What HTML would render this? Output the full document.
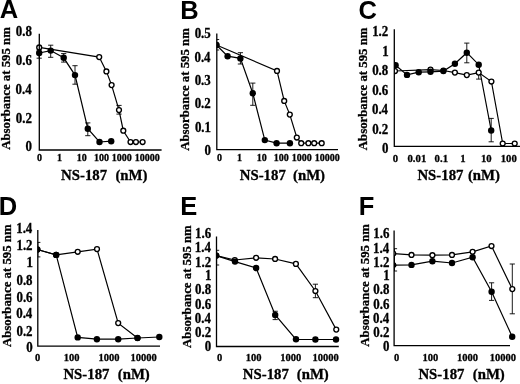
<!DOCTYPE html>
<html><head><meta charset="utf-8"><style>
html,body{margin:0;padding:0;background:#fff;}
svg{display:block;will-change:transform;}
</style></head><body>
<svg width="520" height="384" viewBox="0 0 520 384">
<rect width="520" height="384" fill="#fff"/>
<text x="-0.15" y="18.1" font-family="'Liberation Sans', sans-serif" font-weight="bold" font-size="25.5">A</text>
<text transform="translate(10.2,149.78) rotate(-90)" font-family="'Liberation Serif', serif" font-weight="bold" font-size="12.8" stroke="#000" stroke-width="0.3">Absorbance at 595 nm</text>
<text transform="translate(15.73,36.44) scale(0.95,1)" font-family="'Liberation Serif', serif" font-weight="bold" font-size="13.6" stroke="#000" stroke-width="0.3">0.8</text>
<text transform="translate(15.73,65.39) scale(0.95,1)" font-family="'Liberation Serif', serif" font-weight="bold" font-size="13.6" stroke="#000" stroke-width="0.3">0.6</text>
<text transform="translate(15.49,94.14) scale(0.95,1)" font-family="'Liberation Serif', serif" font-weight="bold" font-size="13.6" stroke="#000" stroke-width="0.3">0.4</text>
<text transform="translate(15.73,123.08) scale(0.95,1)" font-family="'Liberation Serif', serif" font-weight="bold" font-size="13.6" stroke="#000" stroke-width="0.3">0.2</text>
<text transform="translate(25.46,151.44) scale(0.95,1)" font-family="'Liberation Serif', serif" font-weight="bold" font-size="13.6" stroke="#000" stroke-width="0.3">0</text>
<text x="36.98" y="161.25" font-family="'Liberation Serif', serif" font-weight="bold" font-size="10.0" stroke="#000" stroke-width="0.3">0</text>
<text x="56.98" y="161.38" font-family="'Liberation Serif', serif" font-weight="bold" font-size="10.0" stroke="#000" stroke-width="0.3">1</text>
<text x="76.65" y="161.38" font-family="'Liberation Serif', serif" font-weight="bold" font-size="10.0" stroke="#000" stroke-width="0.3">10</text>
<text x="94.05" y="161.38" font-family="'Liberation Serif', serif" font-weight="bold" font-size="10.0" stroke="#000" stroke-width="0.3">100</text>
<text x="111.65" y="161.38" font-family="'Liberation Serif', serif" font-weight="bold" font-size="10.0" stroke="#000" stroke-width="0.3">1000</text>
<text x="134.65" y="161.38" font-family="'Liberation Serif', serif" font-weight="bold" font-size="10.0" stroke="#000" stroke-width="0.3">10000</text>
<text x="61.05" y="179.8" font-family="'Liberation Serif', serif" font-weight="bold" font-size="14.8" stroke="#000" stroke-width="0.3">NS-187</text>
<text x="115.45" y="179.8" font-family="'Liberation Serif', serif" font-weight="bold" font-size="14.8" stroke="#000" stroke-width="0.3">(nM)</text>
<g>
<path d="M39.2 50V58.2M36.6 50H41.8M36.6 58.2H41.8" fill="none" stroke="#000" stroke-width="0.9"/>
<path d="M50.7 45.2V57.3M48.1 45.2H53.3M48.1 57.3H53.3" fill="none" stroke="#000" stroke-width="0.9"/>
<path d="M63.7 53.6V62.1M61.1 53.6H66.3M61.1 62.1H66.3" fill="none" stroke="#000" stroke-width="0.9"/>
<path d="M75 65.7V84.2M72.4 65.7H77.6M72.4 84.2H77.6" fill="none" stroke="#000" stroke-width="0.9"/>
<path d="M87.8 122.9V135.7M85.2 122.9H90.4M85.2 135.7H90.4" fill="none" stroke="#000" stroke-width="0.9"/>
<path d="M119 105.4V114.1M116.4 105.4H121.6M116.4 114.1H121.6" fill="none" stroke="#000" stroke-width="0.9"/>
<path d="M39.2 47.4L99.2 57.1L106.4 71.4L111.6 85.1L119 110.1L123.3 130.7L130.5 142L135.9 142L142.6 142" fill="none" stroke="#000" stroke-width="1.2"/>
<path d="M39.2 53L50.7 50.6L63.7 57.8L75 75.1L87.8 128.7L99.5 142L111.2 141.2" fill="none" stroke="#000" stroke-width="1.2"/>
<circle cx="39.2" cy="47.4" r="2.45" fill="#fff" stroke="#000" stroke-width="1.35"/>
<circle cx="99.2" cy="57.1" r="2.45" fill="#fff" stroke="#000" stroke-width="1.35"/>
<circle cx="106.4" cy="71.4" r="2.45" fill="#fff" stroke="#000" stroke-width="1.35"/>
<circle cx="111.6" cy="85.1" r="2.45" fill="#fff" stroke="#000" stroke-width="1.35"/>
<circle cx="119" cy="110.1" r="2.45" fill="#fff" stroke="#000" stroke-width="1.35"/>
<circle cx="123.3" cy="130.7" r="2.45" fill="#fff" stroke="#000" stroke-width="1.35"/>
<circle cx="130.5" cy="142" r="2.45" fill="#fff" stroke="#000" stroke-width="1.35"/>
<circle cx="135.9" cy="142" r="2.45" fill="#fff" stroke="#000" stroke-width="1.35"/>
<circle cx="142.6" cy="142" r="2.45" fill="#fff" stroke="#000" stroke-width="1.35"/>
<circle cx="39.2" cy="53" r="3.2"/>
<circle cx="50.7" cy="50.6" r="3.2"/>
<circle cx="63.7" cy="57.8" r="3.2"/>
<circle cx="75" cy="75.1" r="3.2"/>
<circle cx="87.8" cy="128.7" r="3.2"/>
<circle cx="99.5" cy="142" r="3.2"/>
<circle cx="111.2" cy="141.2" r="3.2"/>
</g>
<path d="M39.3 33.75V150.0H161.6" fill="none" stroke="#000" stroke-width="1.3"/>
<text x="180.15" y="18.5" font-family="'Liberation Sans', sans-serif" font-weight="bold" font-size="25.5">B</text>
<text transform="translate(188.8,150.78) rotate(-90)" font-family="'Liberation Serif', serif" font-weight="bold" font-size="12.8" stroke="#000" stroke-width="0.3">Absorbance at 595 nm</text>
<text transform="translate(194.67,38.39) scale(0.95,1)" font-family="'Liberation Serif', serif" font-weight="bold" font-size="13.6" stroke="#000" stroke-width="0.3">0.5</text>
<text transform="translate(194.44,62.01) scale(0.95,1)" font-family="'Liberation Serif', serif" font-weight="bold" font-size="13.6" stroke="#000" stroke-width="0.3">0.4</text>
<text transform="translate(194.67,85.14) scale(0.95,1)" font-family="'Liberation Serif', serif" font-weight="bold" font-size="13.6" stroke="#000" stroke-width="0.3">0.3</text>
<text transform="translate(194.67,108.25) scale(0.95,1)" font-family="'Liberation Serif', serif" font-weight="bold" font-size="13.6" stroke="#000" stroke-width="0.3">0.2</text>
<text transform="translate(194.91,132.07) scale(0.95,1)" font-family="'Liberation Serif', serif" font-weight="bold" font-size="13.6" stroke="#000" stroke-width="0.3">0.1</text>
<text transform="translate(204.41,155.13) scale(0.95,1)" font-family="'Liberation Serif', serif" font-weight="bold" font-size="13.6" stroke="#000" stroke-width="0.3">0</text>
<text x="216.88" y="161.25" font-family="'Liberation Serif', serif" font-weight="bold" font-size="10.0" stroke="#000" stroke-width="0.3">0</text>
<text x="237.07" y="161.38" font-family="'Liberation Serif', serif" font-weight="bold" font-size="10.0" stroke="#000" stroke-width="0.3">1</text>
<text x="256.75" y="161.38" font-family="'Liberation Serif', serif" font-weight="bold" font-size="10.0" stroke="#000" stroke-width="0.3">10</text>
<text x="273.65" y="161.38" font-family="'Liberation Serif', serif" font-weight="bold" font-size="10.0" stroke="#000" stroke-width="0.3">100</text>
<text x="291.75" y="161.38" font-family="'Liberation Serif', serif" font-weight="bold" font-size="10.0" stroke="#000" stroke-width="0.3">1000</text>
<text x="314.85" y="161.38" font-family="'Liberation Serif', serif" font-weight="bold" font-size="10.0" stroke="#000" stroke-width="0.3">10000</text>
<text x="239.75" y="180" font-family="'Liberation Serif', serif" font-weight="bold" font-size="14.8" stroke="#000" stroke-width="0.3">NS-187</text>
<text x="293" y="180" font-family="'Liberation Serif', serif" font-weight="bold" font-size="14.8" stroke="#000" stroke-width="0.3">(nM)</text>
<clipPath id="cB"><rect x="216.8" y="0" width="141.2" height="400"/></clipPath>
<g clip-path="url(#cB)">
<path d="M216.6 39.5V50M214 39.5H219.2M214 50H219.2" fill="none" stroke="#000" stroke-width="0.9"/>
<path d="M240.4 52.7V64M237.8 52.7H243M237.8 64H243" fill="none" stroke="#000" stroke-width="0.9"/>
<path d="M252.8 83.1V105.3M250.2 83.1H255.4M250.2 105.3H255.4" fill="none" stroke="#000" stroke-width="0.9"/>
<path d="M216.4 45L277 70.9L284.2 100.9L289.8 114.6L296.8 137.5L301.2 143.2L308.4 143.2L314.2 143.2L321.7 143.2" fill="none" stroke="#000" stroke-width="1.2"/>
<path d="M216.4 45L227.6 56.2L240.4 58.4L252.8 93.3L264.8 140.1L276.6 143.2L289.9 143.2" fill="none" stroke="#000" stroke-width="1.2"/>
<circle cx="216.4" cy="45" r="2.45" fill="#fff" stroke="#000" stroke-width="1.35"/>
<circle cx="277" cy="70.9" r="2.45" fill="#fff" stroke="#000" stroke-width="1.35"/>
<circle cx="284.2" cy="100.9" r="2.45" fill="#fff" stroke="#000" stroke-width="1.35"/>
<circle cx="289.8" cy="114.6" r="2.45" fill="#fff" stroke="#000" stroke-width="1.35"/>
<circle cx="296.8" cy="137.5" r="2.45" fill="#fff" stroke="#000" stroke-width="1.35"/>
<circle cx="301.2" cy="143.2" r="2.45" fill="#fff" stroke="#000" stroke-width="1.35"/>
<circle cx="308.4" cy="143.2" r="2.45" fill="#fff" stroke="#000" stroke-width="1.35"/>
<circle cx="314.2" cy="143.2" r="2.45" fill="#fff" stroke="#000" stroke-width="1.35"/>
<circle cx="321.7" cy="143.2" r="2.45" fill="#fff" stroke="#000" stroke-width="1.35"/>
<circle cx="216.4" cy="45" r="3.2"/>
<circle cx="227.6" cy="56.2" r="3.2"/>
<circle cx="240.4" cy="58.4" r="3.2"/>
<circle cx="252.8" cy="93.3" r="3.2"/>
<circle cx="264.8" cy="140.1" r="3.2"/>
<circle cx="276.6" cy="143.2" r="3.2"/>
<circle cx="289.9" cy="143.2" r="3.2"/>
</g>
<path d="M216.8 33.5V149.7H338.0" fill="none" stroke="#000" stroke-width="1.3"/>
<text x="358.6" y="18.5" font-family="'Liberation Sans', sans-serif" font-weight="bold" font-size="25.5">C</text>
<text transform="translate(367,150.18) rotate(-90)" font-family="'Liberation Serif', serif" font-weight="bold" font-size="12.8" stroke="#000" stroke-width="0.3">Absorbance at 595 nm</text>
<text transform="translate(372.17,36.38) scale(0.95,1)" font-family="'Liberation Serif', serif" font-weight="bold" font-size="13.6" stroke="#000" stroke-width="0.3">1.2</text>
<text transform="translate(382.15,55.82) scale(0.95,1)" font-family="'Liberation Serif', serif" font-weight="bold" font-size="13.6" stroke="#000" stroke-width="0.3">1</text>
<text transform="translate(372.17,75.2) scale(0.95,1)" font-family="'Liberation Serif', serif" font-weight="bold" font-size="13.6" stroke="#000" stroke-width="0.3">0.8</text>
<text transform="translate(372.17,94.7) scale(0.95,1)" font-family="'Liberation Serif', serif" font-weight="bold" font-size="13.6" stroke="#000" stroke-width="0.3">0.6</text>
<text transform="translate(371.94,114.2) scale(0.95,1)" font-family="'Liberation Serif', serif" font-weight="bold" font-size="13.6" stroke="#000" stroke-width="0.3">0.4</text>
<text transform="translate(372.17,133.7) scale(0.95,1)" font-family="'Liberation Serif', serif" font-weight="bold" font-size="13.6" stroke="#000" stroke-width="0.3">0.2</text>
<text transform="translate(381.91,153.13) scale(0.95,1)" font-family="'Liberation Serif', serif" font-weight="bold" font-size="13.6" stroke="#000" stroke-width="0.3">0</text>
<text x="392.65" y="162.2" font-family="'Liberation Serif', serif" font-weight="bold" font-size="10.7" stroke="#000" stroke-width="0.3">0</text>
<text x="407.52" y="162.2" font-family="'Liberation Serif', serif" font-weight="bold" font-size="10.7" stroke="#000" stroke-width="0.3">0.01</text>
<text x="434.62" y="162.2" font-family="'Liberation Serif', serif" font-weight="bold" font-size="10.7" stroke="#000" stroke-width="0.3">0.1</text>
<text x="460.35" y="162.2" font-family="'Liberation Serif', serif" font-weight="bold" font-size="10.7" stroke="#000" stroke-width="0.3">1</text>
<text x="481" y="162.2" font-family="'Liberation Serif', serif" font-weight="bold" font-size="10.7" stroke="#000" stroke-width="0.3">10</text>
<text x="500.75" y="162.2" font-family="'Liberation Serif', serif" font-weight="bold" font-size="10.7" stroke="#000" stroke-width="0.3">100</text>
<text x="417.45" y="179.7" font-family="'Liberation Serif', serif" font-weight="bold" font-size="14.8" stroke="#000" stroke-width="0.3">NS-187</text>
<text x="467.95" y="179.7" font-family="'Liberation Serif', serif" font-weight="bold" font-size="14.8" stroke="#000" stroke-width="0.3">(nM)</text>
<clipPath id="cC"><rect x="394.3" y="0" width="145.7" height="400"/></clipPath>
<g clip-path="url(#cC)">
<path d="M466.8 43.1V62.8M464.2 43.1H469.4M464.2 62.8H469.4" fill="none" stroke="#000" stroke-width="0.9"/>
<path d="M491.2 118.4V141.8M488.6 118.4H493.8M488.6 141.8H493.8" fill="none" stroke="#000" stroke-width="0.9"/>
<path d="M478.7 72V79.1M476.1 72H481.3M476.1 79.1H481.3" fill="none" stroke="#000" stroke-width="0.9"/>
<path d="M395 71L430.5 69.6L443.4 70.5L454.9 72.6L466.8 75.1L478.7 72.6L491.4 81.5L502.7 143.5L514.7 143.5" fill="none" stroke="#000" stroke-width="1.2"/>
<path d="M395.6 65.2L407 74.9L418.7 72.2L430.5 71.8L443.4 71.1L454.9 63.7L466.8 52.7L478.7 64.7L491.2 130.5" fill="none" stroke="#000" stroke-width="1.2"/>
<circle cx="395" cy="71" r="2.45" fill="#fff" stroke="#000" stroke-width="1.35"/>
<circle cx="430.5" cy="69.6" r="2.45" fill="#fff" stroke="#000" stroke-width="1.35"/>
<circle cx="443.4" cy="70.5" r="2.45" fill="#fff" stroke="#000" stroke-width="1.35"/>
<circle cx="454.9" cy="72.6" r="2.45" fill="#fff" stroke="#000" stroke-width="1.35"/>
<circle cx="466.8" cy="75.1" r="2.45" fill="#fff" stroke="#000" stroke-width="1.35"/>
<circle cx="478.7" cy="72.6" r="2.45" fill="#fff" stroke="#000" stroke-width="1.35"/>
<circle cx="491.4" cy="81.5" r="2.45" fill="#fff" stroke="#000" stroke-width="1.35"/>
<circle cx="502.7" cy="143.5" r="2.45" fill="#fff" stroke="#000" stroke-width="1.35"/>
<circle cx="514.7" cy="143.5" r="2.45" fill="#fff" stroke="#000" stroke-width="1.35"/>
<circle cx="395.6" cy="65.2" r="3.2"/>
<circle cx="407" cy="74.9" r="3.2"/>
<circle cx="418.7" cy="72.2" r="3.2"/>
<circle cx="430.5" cy="71.8" r="3.2"/>
<circle cx="443.4" cy="71.1" r="3.2"/>
<circle cx="454.9" cy="63.7" r="3.2"/>
<circle cx="466.8" cy="52.7" r="3.2"/>
<circle cx="478.7" cy="64.7" r="3.2"/>
<circle cx="491.2" cy="130.5" r="3.2"/>
</g>
<path d="M394.3 29.2V146.3H520" fill="none" stroke="#000" stroke-width="1.3"/>
<text x="-1.15" y="214.75" font-family="'Liberation Sans', sans-serif" font-weight="bold" font-size="25.5">D</text>
<text transform="translate(10.5,347.07) rotate(-90)" font-family="'Liberation Serif', serif" font-weight="bold" font-size="12.8" stroke="#000" stroke-width="0.3">Absorbance at 595 nm</text>
<text transform="translate(16.19,233.27) scale(0.95,1)" font-family="'Liberation Serif', serif" font-weight="bold" font-size="13.6" stroke="#000" stroke-width="0.3">1.4</text>
<text transform="translate(16.43,249.95) scale(0.95,1)" font-family="'Liberation Serif', serif" font-weight="bold" font-size="13.6" stroke="#000" stroke-width="0.3">1.2</text>
<text transform="translate(26.4,267.45) scale(0.95,1)" font-family="'Liberation Serif', serif" font-weight="bold" font-size="13.6" stroke="#000" stroke-width="0.3">1</text>
<text transform="translate(16.43,284.71) scale(0.95,1)" font-family="'Liberation Serif', serif" font-weight="bold" font-size="13.6" stroke="#000" stroke-width="0.3">0.8</text>
<text transform="translate(16.43,301.57) scale(0.95,1)" font-family="'Liberation Serif', serif" font-weight="bold" font-size="13.6" stroke="#000" stroke-width="0.3">0.6</text>
<text transform="translate(16.19,318.26) scale(0.95,1)" font-family="'Liberation Serif', serif" font-weight="bold" font-size="13.6" stroke="#000" stroke-width="0.3">0.4</text>
<text transform="translate(16.43,335.63) scale(0.95,1)" font-family="'Liberation Serif', serif" font-weight="bold" font-size="13.6" stroke="#000" stroke-width="0.3">0.2</text>
<text transform="translate(26.16,352.44) scale(0.95,1)" font-family="'Liberation Serif', serif" font-weight="bold" font-size="13.6" stroke="#000" stroke-width="0.3">0</text>
<text x="34.98" y="360.8" font-family="'Liberation Serif', serif" font-weight="bold" font-size="10.5" stroke="#000" stroke-width="0.3">0</text>
<text x="63.7" y="360.8" font-family="'Liberation Serif', serif" font-weight="bold" font-size="10.5" stroke="#000" stroke-width="0.3">100</text>
<text x="98.38" y="360.8" font-family="'Liberation Serif', serif" font-weight="bold" font-size="10.5" stroke="#000" stroke-width="0.3">1000</text>
<text x="130.55" y="360.8" font-family="'Liberation Serif', serif" font-weight="bold" font-size="10.5" stroke="#000" stroke-width="0.3">10000</text>
<text x="63.45" y="378.7" font-family="'Liberation Serif', serif" font-weight="bold" font-size="14.8" stroke="#000" stroke-width="0.3">NS-187</text>
<text x="117.75" y="378.7" font-family="'Liberation Serif', serif" font-weight="bold" font-size="14.8" stroke="#000" stroke-width="0.3">(nM)</text>
<clipPath id="cD"><rect x="37.8" y="0" width="142.2" height="400"/></clipPath>
<g clip-path="url(#cD)">
<path d="M37.8 242.4V256.9M35.2 242.4H40.4M35.2 256.9H40.4" fill="none" stroke="#000" stroke-width="0.9"/>
<path d="M37.3 249.5L56.2 254.9L77.7 251.8L97 249.1L118.2 323.1L137.5 338" fill="none" stroke="#000" stroke-width="1.2"/>
<path d="M37.3 249.5L56.2 254.9L77.7 337.4L96.9 339.2L118.2 339.2L137.5 338L159.3 337" fill="none" stroke="#000" stroke-width="1.2"/>
<circle cx="37.3" cy="249.5" r="2.45" fill="#fff" stroke="#000" stroke-width="1.35"/>
<circle cx="56.2" cy="254.9" r="2.45" fill="#fff" stroke="#000" stroke-width="1.35"/>
<circle cx="77.7" cy="251.8" r="2.45" fill="#fff" stroke="#000" stroke-width="1.35"/>
<circle cx="97" cy="249.1" r="2.45" fill="#fff" stroke="#000" stroke-width="1.35"/>
<circle cx="118.2" cy="323.1" r="2.45" fill="#fff" stroke="#000" stroke-width="1.35"/>
<circle cx="137.5" cy="338" r="2.45" fill="#fff" stroke="#000" stroke-width="1.35"/>
<circle cx="37.3" cy="249.5" r="3.2"/>
<circle cx="56.2" cy="254.9" r="3.2"/>
<circle cx="77.7" cy="337.4" r="3.2"/>
<circle cx="96.9" cy="339.2" r="3.2"/>
<circle cx="118.2" cy="339.2" r="3.2"/>
<circle cx="137.5" cy="338" r="3.2"/>
<circle cx="159.3" cy="337" r="3.2"/>
</g>
<path d="M37.8 230.0V346.2H160.0" fill="none" stroke="#000" stroke-width="1.3"/>
<text x="180.15" y="215" font-family="'Liberation Sans', sans-serif" font-weight="bold" font-size="25.5">E</text>
<text transform="translate(191,347.88) rotate(-90)" font-family="'Liberation Serif', serif" font-weight="bold" font-size="12.8" stroke="#000" stroke-width="0.3">Absorbance at 595 nm</text>
<text transform="translate(195.03,238.2) scale(0.95,1)" font-family="'Liberation Serif', serif" font-weight="bold" font-size="13.6" stroke="#000" stroke-width="0.3">1.6</text>
<text transform="translate(194.79,252.38) scale(0.95,1)" font-family="'Liberation Serif', serif" font-weight="bold" font-size="13.6" stroke="#000" stroke-width="0.3">1.4</text>
<text transform="translate(195.03,266.57) scale(0.95,1)" font-family="'Liberation Serif', serif" font-weight="bold" font-size="13.6" stroke="#000" stroke-width="0.3">1.2</text>
<text transform="translate(205,280.38) scale(0.95,1)" font-family="'Liberation Serif', serif" font-weight="bold" font-size="13.6" stroke="#000" stroke-width="0.3">1</text>
<text transform="translate(195.03,294.44) scale(0.95,1)" font-family="'Liberation Serif', serif" font-weight="bold" font-size="13.6" stroke="#000" stroke-width="0.3">0.8</text>
<text transform="translate(195.03,308.63) scale(0.95,1)" font-family="'Liberation Serif', serif" font-weight="bold" font-size="13.6" stroke="#000" stroke-width="0.3">0.6</text>
<text transform="translate(194.79,323.02) scale(0.95,1)" font-family="'Liberation Serif', serif" font-weight="bold" font-size="13.6" stroke="#000" stroke-width="0.3">0.4</text>
<text transform="translate(195.03,336.51) scale(0.95,1)" font-family="'Liberation Serif', serif" font-weight="bold" font-size="13.6" stroke="#000" stroke-width="0.3">0.2</text>
<text transform="translate(204.76,351.01) scale(0.95,1)" font-family="'Liberation Serif', serif" font-weight="bold" font-size="13.6" stroke="#000" stroke-width="0.3">0</text>
<text x="216.97" y="360.8" font-family="'Liberation Serif', serif" font-weight="bold" font-size="10.5" stroke="#000" stroke-width="0.3">0</text>
<text x="245.7" y="360.8" font-family="'Liberation Serif', serif" font-weight="bold" font-size="10.5" stroke="#000" stroke-width="0.3">100</text>
<text x="280.18" y="360.8" font-family="'Liberation Serif', serif" font-weight="bold" font-size="10.5" stroke="#000" stroke-width="0.3">1000</text>
<text x="312.55" y="360.8" font-family="'Liberation Serif', serif" font-weight="bold" font-size="10.5" stroke="#000" stroke-width="0.3">10000</text>
<text x="242.85" y="378.7" font-family="'Liberation Serif', serif" font-weight="bold" font-size="14.8" stroke="#000" stroke-width="0.3">NS-187</text>
<text x="296.75" y="378.7" font-family="'Liberation Serif', serif" font-weight="bold" font-size="14.8" stroke="#000" stroke-width="0.3">(nM)</text>
<clipPath id="cE"><rect x="216.5" y="0" width="142.3" height="400"/></clipPath>
<g clip-path="url(#cE)">
<path d="M216.6 250.3V265M214 250.3H219.2M214 265H219.2" fill="none" stroke="#000" stroke-width="0.9"/>
<path d="M275.2 311.25V319.6M272.6 311.25H277.8M272.6 319.6H277.8" fill="none" stroke="#000" stroke-width="0.9"/>
<path d="M315.4 284.2V297.7M312.8 284.2H318M312.8 297.7H318" fill="none" stroke="#000" stroke-width="0.9"/>
<path d="M216.2 255.6L234.8 260L256.1 257.8L275.1 259L295.9 263.9L315.4 291L336.25 329.6" fill="none" stroke="#000" stroke-width="1.2"/>
<path d="M216.2 255.6L235 261.6L256.1 268L275.2 315L296 339.3L315.4 339.5L336 339.5" fill="none" stroke="#000" stroke-width="1.2"/>
<circle cx="216.2" cy="255.6" r="2.45" fill="#fff" stroke="#000" stroke-width="1.35"/>
<circle cx="234.8" cy="260" r="2.45" fill="#fff" stroke="#000" stroke-width="1.35"/>
<circle cx="256.1" cy="257.8" r="2.45" fill="#fff" stroke="#000" stroke-width="1.35"/>
<circle cx="275.1" cy="259" r="2.45" fill="#fff" stroke="#000" stroke-width="1.35"/>
<circle cx="295.9" cy="263.9" r="2.45" fill="#fff" stroke="#000" stroke-width="1.35"/>
<circle cx="315.4" cy="291" r="2.45" fill="#fff" stroke="#000" stroke-width="1.35"/>
<circle cx="336.25" cy="329.6" r="2.45" fill="#fff" stroke="#000" stroke-width="1.35"/>
<circle cx="216.2" cy="255.6" r="3.2"/>
<circle cx="235" cy="261.6" r="3.2"/>
<circle cx="256.1" cy="268" r="3.2"/>
<circle cx="275.2" cy="315" r="3.2"/>
<circle cx="296" cy="339.3" r="3.2"/>
<circle cx="315.4" cy="339.5" r="3.2"/>
<circle cx="336" cy="339.5" r="3.2"/>
</g>
<path d="M216.5 236.5V346.5H338.8" fill="none" stroke="#000" stroke-width="1.3"/>
<text x="358.85" y="215" font-family="'Liberation Sans', sans-serif" font-weight="bold" font-size="25.5">F</text>
<text transform="translate(368.8,346.68) rotate(-90)" font-family="'Liberation Serif', serif" font-weight="bold" font-size="12.8" stroke="#000" stroke-width="0.3">Absorbance at 595 nm</text>
<text transform="translate(373.32,238.38) scale(0.95,1)" font-family="'Liberation Serif', serif" font-weight="bold" font-size="13.6" stroke="#000" stroke-width="0.3">1.6</text>
<text transform="translate(373.09,252.57) scale(0.95,1)" font-family="'Liberation Serif', serif" font-weight="bold" font-size="13.6" stroke="#000" stroke-width="0.3">1.4</text>
<text transform="translate(373.32,266.77) scale(0.95,1)" font-family="'Liberation Serif', serif" font-weight="bold" font-size="13.6" stroke="#000" stroke-width="0.3">1.2</text>
<text transform="translate(383.3,280.38) scale(0.95,1)" font-family="'Liberation Serif', serif" font-weight="bold" font-size="13.6" stroke="#000" stroke-width="0.3">1</text>
<text transform="translate(373.32,294.44) scale(0.95,1)" font-family="'Liberation Serif', serif" font-weight="bold" font-size="13.6" stroke="#000" stroke-width="0.3">0.8</text>
<text transform="translate(373.32,308.63) scale(0.95,1)" font-family="'Liberation Serif', serif" font-weight="bold" font-size="13.6" stroke="#000" stroke-width="0.3">0.6</text>
<text transform="translate(373.09,323.02) scale(0.95,1)" font-family="'Liberation Serif', serif" font-weight="bold" font-size="13.6" stroke="#000" stroke-width="0.3">0.4</text>
<text transform="translate(373.32,336.51) scale(0.95,1)" font-family="'Liberation Serif', serif" font-weight="bold" font-size="13.6" stroke="#000" stroke-width="0.3">0.2</text>
<text transform="translate(383.06,351.01) scale(0.95,1)" font-family="'Liberation Serif', serif" font-weight="bold" font-size="13.6" stroke="#000" stroke-width="0.3">0</text>
<text x="393.88" y="360.5" font-family="'Liberation Serif', serif" font-weight="bold" font-size="10.5" stroke="#000" stroke-width="0.3">0</text>
<text x="422.6" y="360.5" font-family="'Liberation Serif', serif" font-weight="bold" font-size="10.5" stroke="#000" stroke-width="0.3">100</text>
<text x="456.88" y="360.5" font-family="'Liberation Serif', serif" font-weight="bold" font-size="10.5" stroke="#000" stroke-width="0.3">1000</text>
<text x="489.65" y="360.5" font-family="'Liberation Serif', serif" font-weight="bold" font-size="10.5" stroke="#000" stroke-width="0.3">10000</text>
<text x="418.45" y="378.7" font-family="'Liberation Serif', serif" font-weight="bold" font-size="14.8" stroke="#000" stroke-width="0.3">NS-187</text>
<text x="472.75" y="378.7" font-family="'Liberation Serif', serif" font-weight="bold" font-size="14.8" stroke="#000" stroke-width="0.3">(nM)</text>
<clipPath id="cF"><rect x="394.1" y="0" width="135.89999999999998" height="400"/></clipPath>
<g clip-path="url(#cF)">
<path d="M394.5 248.7V271M391.9 248.7H397.1M391.9 271H397.1" fill="none" stroke="#000" stroke-width="0.9"/>
<path d="M491.6 282.8V300.4M489 282.8H494.2M489 300.4H494.2" fill="none" stroke="#000" stroke-width="0.9"/>
<path d="M512.3 264V313.8M509.7 264H514.9M509.7 313.8H514.9" fill="none" stroke="#000" stroke-width="0.9"/>
<path d="M393.3 253.5L411.5 254.9L432.4 255.2L452 254.9L472.6 251.8L491.5 246L512.3 289.1" fill="none" stroke="#000" stroke-width="1.2"/>
<path d="M393.3 265.2L411.5 264.9L432.4 261.2L452 263L472.6 257.2L491.6 291.7L512.2 336.7" fill="none" stroke="#000" stroke-width="1.2"/>
<circle cx="393.3" cy="253.5" r="2.45" fill="#fff" stroke="#000" stroke-width="1.35"/>
<circle cx="411.5" cy="254.9" r="2.45" fill="#fff" stroke="#000" stroke-width="1.35"/>
<circle cx="432.4" cy="255.2" r="2.45" fill="#fff" stroke="#000" stroke-width="1.35"/>
<circle cx="452" cy="254.9" r="2.45" fill="#fff" stroke="#000" stroke-width="1.35"/>
<circle cx="472.6" cy="251.8" r="2.45" fill="#fff" stroke="#000" stroke-width="1.35"/>
<circle cx="491.5" cy="246" r="2.45" fill="#fff" stroke="#000" stroke-width="1.35"/>
<circle cx="512.3" cy="289.1" r="2.45" fill="#fff" stroke="#000" stroke-width="1.35"/>
<circle cx="393.3" cy="265.2" r="3.2"/>
<circle cx="411.5" cy="264.9" r="3.2"/>
<circle cx="432.4" cy="261.2" r="3.2"/>
<circle cx="452" cy="263" r="3.2"/>
<circle cx="472.6" cy="257.2" r="3.2"/>
<circle cx="491.6" cy="291.7" r="3.2"/>
<circle cx="512.2" cy="336.7" r="3.2"/>
</g>
<path d="M394.1 230.5V345.6H510.0" fill="none" stroke="#000" stroke-width="1.3"/>
</svg>
</body></html>
